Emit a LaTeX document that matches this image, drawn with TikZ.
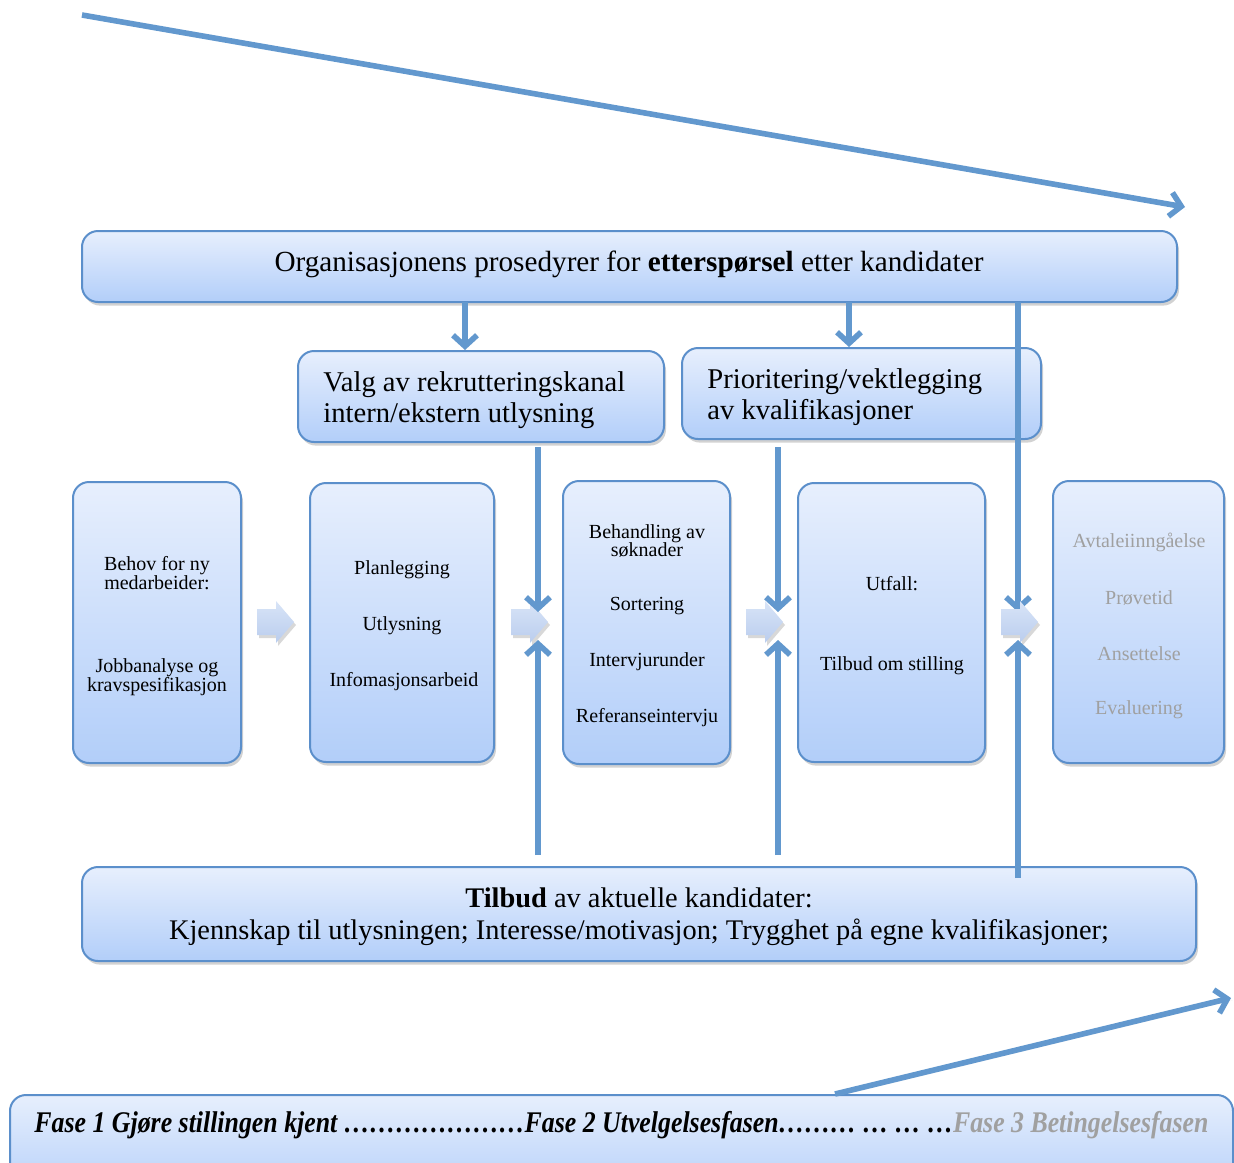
\documentclass[tikz,border=0pt]{standalone}
\usepackage{fontspec}
\setmainfont{Liberation Serif}
\usetikzlibrary{arrows.meta,shadows,fit}
\definecolor{boxtop}{RGB}{231,239,253}
\definecolor{boxbot}{RGB}{178,206,249}
\definecolor{boxline}{RGB}{91,143,203}
\definecolor{conn}{RGB}{98,152,206}
\definecolor{chevtop}{RGB}{216,228,247}
\definecolor{chevbot}{RGB}{186,205,238}
\definecolor{greytext}{RGB}{160,160,160}
\tikzset{
  pbox/.style={draw=boxline, line width=1pt, rounded corners=8pt, top color=boxtop, bottom color=boxbot,
    inner sep=0pt, drop shadow={opacity=0.35, shadow xshift=1pt, shadow yshift=-1.8pt}},
  conline/.style={draw=conn, line width=2.8pt},
  conarrow/.style={conline, -{Straight Barb[length=5.5pt,width=12pt,line width=2.8pt]}},
  chev/.style={top color=chevtop, bottom color=chevbot, draw=none,
    drop shadow={opacity=0.3, shadow xshift=1pt, shadow yshift=-1.5pt}},
  bigtext/.style={font=\fontsize{14.6}{16}\selectfont, inner sep=0pt, yshift=-1.5pt},
  midtext/.style={font=\fontsize{14.3}{15.5}\selectfont, inner sep=0pt, align=left, yshift=-1pt},
  smalltext/.style={font=\fontsize{10}{9.3}\selectfont, inner sep=0pt, align=center, yshift=-1.5pt},
  greysmall/.style={smalltext, text=greytext},
}
\begin{document}
\begin{tikzpicture}[x=0.5pt,y=-0.5pt]
\clip (0,0) rectangle (1234,1162);
\fill[white] (0,0) rectangle (1234,1162);

% top diagonal arrow
\coordinate (ta1) at (82,15);
\coordinate (ta2) at (1185,207);
\draw[conarrow, drop shadow={opacity=0.25, shadow xshift=0.8pt, shadow yshift=-1.2pt}] (ta1) -- (ta2);

% top box
\node[pbox, fit={(82,231)(1177,302)}] (top) {};
\node[bigtext] (toptext) at (629,261) {Organisasjonens prosedyrer for \textbf{etterspørsel} etter kandidater};

% vertical line from top box through Prioritering box (behind it)
\coordinate (v3a) at (1018,302);
\coordinate (v3b) at (1018,612);

% second row boxes
\node[pbox, fit={(298,351)(664,442)}] (valg) {};
\node[midtext, anchor=west] (valgtext) at (323,398) {Valg av rekrutteringskanal\\intern/ekstern utlysning};
\node[pbox, fit={(682,348)(1041,439)}] (prio) {};
\node[midtext, anchor=west] (priotext) at (707,395) {Prioritering/vektlegging\\av kvalifikasjoner};

\draw[conarrow] (v3a) -- (v3b);

% arrows from top box
\draw[conarrow] (465,302) -- (valg.north -| 465,0);
\draw[conarrow] (849,302) -- (prio.north -| 849,0);

% tall boxes
\node[pbox, fit={(73,482)(241,763)}] (b1) {};
\node[pbox, fit={(310,483)(494,762)}] (b2) {};
\node[pbox, fit={(563,481)(730,764)}] (b3) {};
\node[pbox, fit={(798,483)(985,762)}] (b4) {};
\node[pbox, fit={(1053,481)(1224,763)}] (b5) {};

\node[smalltext] (t1a) at (157,570) {Behov for ny\\medarbeider:};
\node[smalltext] (t1b) at (157,674) {Jobbanalyse og\\kravspesifikasjon};

\node[smalltext] (t2a) at (402,567) {Planlegging};
\node[smalltext] (t2b) at (402,623) {Utlysning};
\node[smalltext] (t2c) at (404,679) {Infomasjonsarbeid};

\node[smalltext] (t3a) at (647,538) {Behandling av\\søknader};
\node[smalltext] (t3b) at (647,603) {Sortering};
\node[smalltext] (t3c) at (647,659) {Intervjurunder};
\node[smalltext] (t3d) at (647,715) {Referanseintervju};

\node[smalltext] (t4a) at (892,581) {Utfall:};
\node[smalltext] (t4b) at (892,663) {Tilbud om stilling};

\node[greysmall] (t5a) at (1139,539) {Avtaleiinngåelse};
\node[greysmall] (t5b) at (1139,595) {Prøvetid};
\node[greysmall] (t5c) at (1139,651) {Ansettelse};
\node[greysmall] (t5d) at (1139,707) {Evaluering};

% chevron block arrows
\foreach \n/\xa in {c1/257, c2/511, c3/746, c4/1001}{
  \path[chev] (\xa,609) -- (\xa+19,609) -- (\xa+19,601) -- (\xa+37,622) -- (\xa+19,643) -- (\xa+19,635) -- (\xa,635) -- cycle;
  \coordinate (\n) at (\xa+37,622);
}

% bottom box
\node[pbox, fit={(82,867)(1196,961)}] (bot) {};
\node[bigtext, align=center, font=\fontsize{14.2}{16}\selectfont] (bottext) at (639,914) {\textbf{Tilbud} av aktuelle kandidater:\\Kjennskap til utlysningen; Interesse/motivasjon; Trygghet på egne kvalifikasjoner;};

% vertical connectors
\coordinate (d1a) at (538,447); \coordinate (d1b) at (538,612);
\coordinate (u1a) at (538,855); \coordinate (u1b) at (538,640);
\coordinate (d2a) at (778,447); \coordinate (d2b) at (778,612);
\coordinate (u2a) at (778,855); \coordinate (u2b) at (778,640);
\coordinate (u3a) at (1018,878); \coordinate (u3b) at (1018,640);
\draw[conarrow] (d1a) -- (d1b);
\draw[conarrow] (u1a) -- (u1b);
\draw[conarrow] (d2a) -- (d2b);
\draw[conarrow] (u2a) -- (u2b);
\draw[conarrow] (u3a) -- (u3b);

% phase box
\node[pbox, fit={(10,1095)(1233,1200)}] (phase) {};
\node[inner sep=0pt, font=\fontsize{15}{17}\selectfont\bfseries\itshape] (phasetext) at (621.5,1125)
  {\resizebox{587pt}{\height}{Fase 1 Gjøre stillingen kjent …………………Fase 2 Utvelgelsesfasen……… … … …\textcolor{greytext}{Fase 3 Betingelsesfasen}}};

% bottom diagonal arrow
\coordinate (ba1) at (835,1094);
\coordinate (ba2) at (1231,998);
\draw[conarrow, drop shadow={opacity=0.25, shadow xshift=0.8pt, shadow yshift=-1.2pt}] (ba1) -- (ba2);
\end{tikzpicture}
\end{document}
